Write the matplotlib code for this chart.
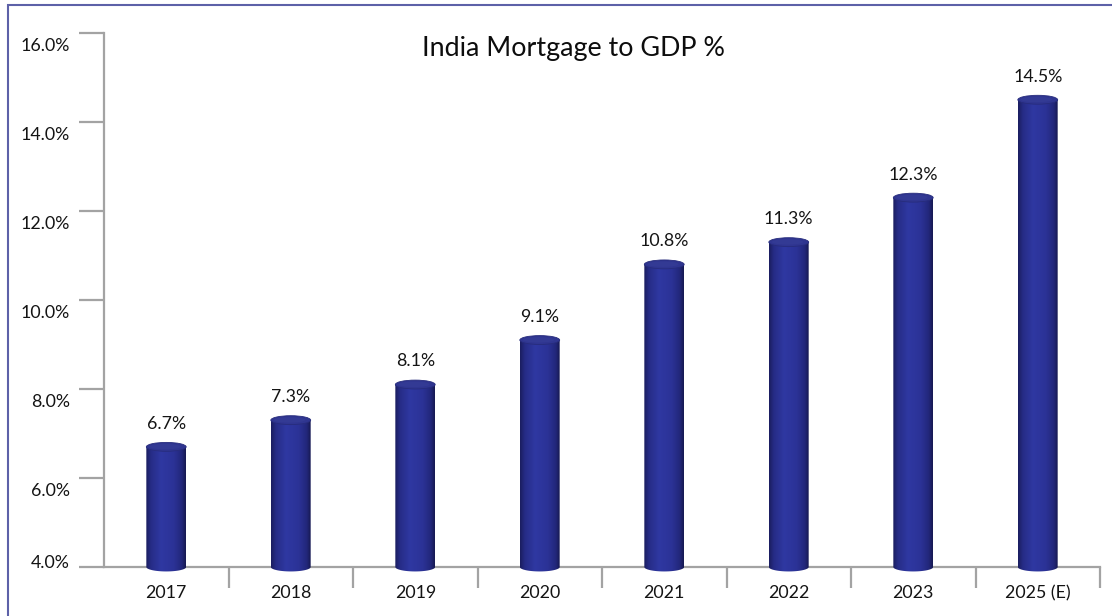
import numpy as np
import matplotlib
matplotlib.use("Agg")
import matplotlib.pyplot as plt
from matplotlib.patches import Ellipse, PathPatch, Rectangle
from matplotlib.path import Path
from matplotlib.colors import LinearSegmentedColormap
from matplotlib.transforms import ScaledTranslation

# Data
years = ["2017", "2018", "2019", "2020", "2021", "2022", "2023", "2025 (E)"]
mortgage_to_gdp = [6.7, 7.3, 8.1, 9.1, 10.8, 11.3, 12.3, 14.5]
y_ticks = [4.0, 6.0, 8.0, 10.0, 12.0, 14.0, 16.0]
y_tick_labels = ["4.0%", "6.0%", "8.0%", "10.0%", "12.0%", "14.0%", "16.0%"]
title = "India Mortgage to GDP %"

plt.rcParams["font.family"] = ["Lato", "DejaVu Sans"]
TEXT = "#141414"
AXIS = "#a3a3a3"
FRAME = "#5d61a8"

fig = plt.figure(figsize=(11.12, 6.16), dpi=100)
ax = fig.add_axes([104 / 1112, 49 / 616, 996 / 1112, 534 / 616])
ax.set_xlim(-0.5, len(years) - 0.5)
ax.set_ylim(y_ticks[0], y_ticks[-1])

# shading across a cylinder body: dark rim, bright band left of centre
cyl_cmap = LinearSegmentedColormap.from_list(
    "cyl",
    [(0.0, "#1a1d5e"), (0.12, "#262c86"), (0.38, "#2f38a2"),
     (0.7, "#2b3296"), (0.9, "#22277a"), (1.0, "#161950")],
)
grad = np.linspace(0, 1, 256)[None, :]

bar_w = 0.32
cap_h = 0.2           # ellipse height in data units
base = y_ticks[0]

for i, v in enumerate(mortgage_to_gdp):
    x0, x1 = i - bar_w / 2, i + bar_w / 2
    # outline of body: straight sides, rounded bottom
    t = np.linspace(np.pi, 2 * np.pi, 40)
    bottom = np.column_stack([i + bar_w / 2 * np.cos(t), base + cap_h / 2 * np.sin(t)])
    verts = np.vstack([[x0, v], bottom, [x1, v], [x0, v]])
    codes = [Path.MOVETO] + [Path.LINETO] * (len(verts) - 2) + [Path.CLOSEPOLY]
    body = PathPatch(Path(verts, codes), facecolor="none", edgecolor="none",
                     transform=ax.transData)
    ax.add_patch(body)
    im = ax.imshow(grad, cmap=cyl_cmap, aspect="auto", interpolation="bicubic",
                   extent=(x0, x1, base - cap_h, v), zorder=3)
    im.set_clip_path(body)
    im.set_clip_box(fig.bbox)
    # top cap
    ax.add_patch(Ellipse((i, v), bar_w, cap_h, facecolor="#2f3590",
                         edgecolor="#272c7c", linewidth=0.6, zorder=4))
    ax.add_patch(Ellipse((i - 0.01, v + 0.005), bar_w * 0.78, cap_h * 0.6,
                         facecolor="#373e98", edgecolor="none", zorder=4, alpha=0.6))
    # value label
    ax.annotate(f"{v:.1f}%", (i, v), xytext=(0, 13), textcoords="offset points",
                ha="center", va="baseline", fontsize=12.8, color=TEXT, zorder=5)

# axes styling
for side in ("top", "right"):
    ax.spines[side].set_visible(False)
for side in ("left", "bottom"):
    ax.spines[side].set_color(AXIS)
    ax.spines[side].set_linewidth(1.6)
    ax.spines[side].set_zorder(2)

ax.set_yticks(y_ticks)
ax.set_yticklabels([])
ax.tick_params(axis="y", which="major", direction="out", length=18, width=1.6,
               color=AXIS)
# y labels sit slightly below their tick lines
for yv, lab in zip(y_ticks, y_tick_labels):
    dy = 4 if yv == y_ticks[0] else -13
    tr = ax.get_yaxis_transform() + ScaledTranslation(-34 / 100, dy / 100, fig.dpi_scale_trans)
    ax.text(0, yv, lab, transform=tr, ha="right", va="center", fontsize=12.8,
            color=TEXT)

ax.set_xticks(range(len(years)))
ax.set_xticklabels(years, fontsize=12.8, color=TEXT)
ax.set_xticks(np.arange(0.5, len(years), 1.0), minor=True)
ax.tick_params(axis="x", which="major", length=0, pad=13)
ax.tick_params(axis="x", which="minor", direction="out", length=15, width=1.6,
               color=AXIS)

fig.text(573 / 1112, 1 - 56 / 616, title, ha="center", va="baseline",
         fontsize=19.4, color="#0d0d0d")

# outer frame
fig.add_artist(Rectangle((7.5 / 1112, -0.05), 1.2, 1 - 5.5 / 616 + 0.05,
                         transform=fig.transFigure, facecolor="none",
                         edgecolor=FRAME, linewidth=1.5))

fig.savefig("out.png", dpi=100)
